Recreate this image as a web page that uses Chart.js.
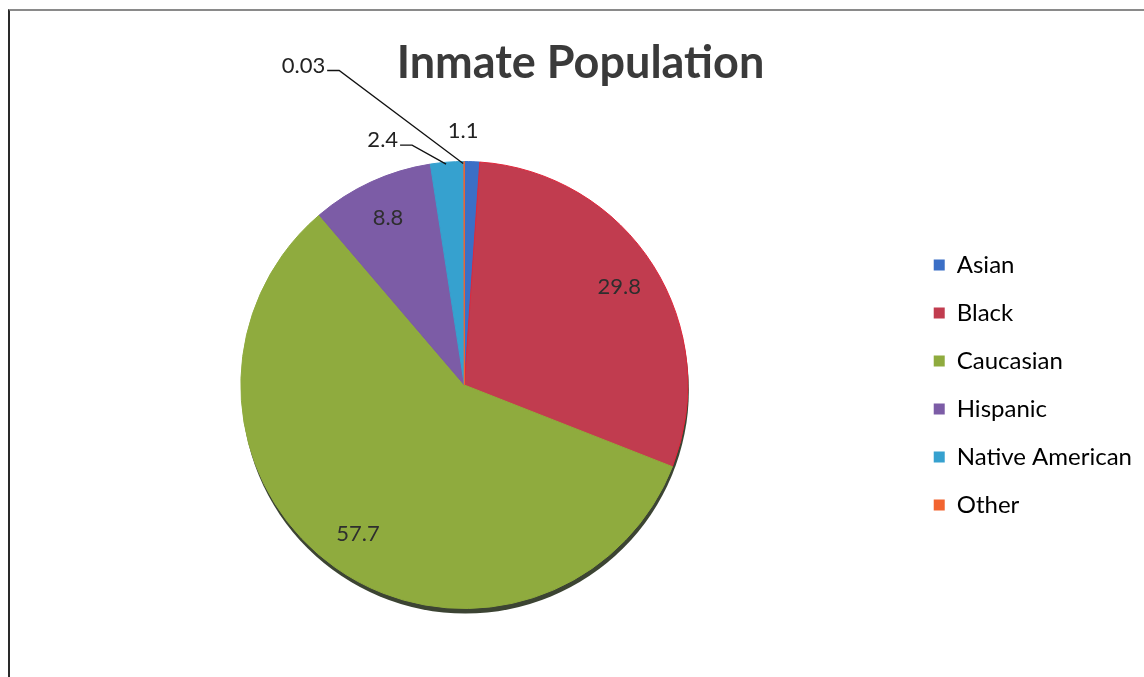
<!DOCTYPE html>
<html>
<head>
<meta charset="utf-8">
<script src="https://cdn.jsdelivr.net/npm/chart.js@4/dist/chart.umd.min.js"></script>
<style>
  html, body { margin: 0; padding: 0; background: #fff; }
  #wrap { position: relative; width: 1144px; height: 677px; overflow: hidden; }
  #frame { position: absolute; left: 8px; top: 9px; right: -5px; bottom: -5px;
           border-top: 2px solid #8a8a8a; border-left: 2px solid #2a2a2a; }
  canvas { position: absolute; left: 0; top: 0; }
</style>
</head>
<body>
<div id="wrap">
  <div id="frame"></div>
  <canvas id="pie" width="1144" height="677"></canvas>
</div>
<script>
// Chart data
const groups = ['Asian', 'Black', 'Caucasian', 'Hispanic', 'Native American', 'Other'];
const shares = [1.1, 29.8, 57.7, 8.8, 2.4, 0.03];
const sliceColors = ['#3b6fc6', '#c13c4f', '#8fab3e', '#7c5ca6', '#36a1cf', '#f26430'];
const edgeColors = ['#3b6fc6', '#e0283c', '#8fab3e', '#7c5ca6', '#36a1cf', '#f26430'];

// where each value label sits: inside the slice, or outside with an optional leader
const labelPlacement = [
  { outside: true, dx: -9, dy: -31 },
  { outside: false },
  { outside: false },
  { outside: false },
  { outside: true, dx: -49, dy: -22, leader: true },
  { outside: true, dx: -139, dy: -96, leader: true }
];

const labelFont = '22px Lato';

// dark rim under the pie, like the 3d-ish office look
const shadowPlugin = {
  id: 'pieShadow',
  beforeDatasetsDraw(chart) {
    const arc = chart.getDatasetMeta(0).data[0];
    if (!arc) return;
    const ctx = chart.ctx;
    ctx.save();
    ctx.fillStyle = '#3c4433';
    ctx.beginPath();
    ctx.arc(arc.x + 1, arc.y + 5, arc.outerRadius, 0, Math.PI * 2);
    ctx.fill();
    ctx.restore();
  }
};

const valueLabels = {
  id: 'valueLabels',
  afterDatasetsDraw(chart) {
    const ctx = chart.ctx;
    const meta = chart.getDatasetMeta(0);
    ctx.save();
    ctx.font = labelFont;
    ctx.textBaseline = 'middle';
    meta.data.forEach((arc, i) => {
      const mid = (arc.startAngle + arc.endAngle) / 2;
      const text = String(shares[i]);
      const p = labelPlacement[i];
      if (!p.outside) {
        const r = arc.outerRadius * 0.82;
        ctx.fillStyle = '#2e2e2e';
        ctx.textAlign = 'center';
        ctx.fillText(text, arc.x + Math.cos(mid) * r, arc.y + Math.sin(mid) * r);
        return;
      }
      const ex = arc.x + Math.cos(mid) * arc.outerRadius;
      const ey = arc.y + Math.sin(mid) * arc.outerRadius;
      ctx.fillStyle = '#222';
      if (!p.leader) {
        ctx.textAlign = 'center';
        ctx.fillText(text, ex + p.dx, ey + p.dy);
        return;
      }
      const tx = ex + p.dx, ty = ey + p.dy;
      ctx.strokeStyle = '#111';
      ctx.lineWidth = 1.3;
      ctx.beginPath();
      ctx.moveTo(ex - 1, ey + 2);
      ctx.lineTo(tx + 14, ty + 5);
      ctx.lineTo(tx + 2, ty + 5);
      ctx.stroke();
      ctx.textAlign = 'right';
      ctx.fillText(text, tx, ty);
    });
    ctx.restore();
  }
};

new Chart(document.getElementById('pie'), {
  type: 'pie',
  data: {
    labels: groups,
    datasets: [{
      data: shares,
      backgroundColor: sliceColors,
      borderColor: edgeColors,
      borderWidth: 1,
      hoverOffset: 0
    }]
  },
  options: {
    responsive: false,
    animation: false,
    layout: { padding: { left: 19, right: 2, top: 0, bottom: 68 } },
    plugins: {
      tooltip: { enabled: false },
      title: {
        display: true,
        text: 'Inmate Population',
        color: '#3a3a3a',
        font: { family: 'Lato', size: 45, weight: 'bold', lineHeight: 1.2 },
        padding: { top: 36, bottom: 71 }
      },
      legend: {
        position: 'right',
        fullSize: false,
        labels: {
          boxWidth: 11,
          boxHeight: 11,
          padding: 24,
          color: '#1e1e1e',
          font: { family: 'Lato', size: 24 },
          generateLabels(chart) {
            return groups.map((g, i) => ({
              text: g,
              fillStyle: sliceColors[i],
              strokeStyle: sliceColors[i],
              lineWidth: 0,
              index: i
            }));
          }
        }
      }
    }
  },
  plugins: [shadowPlugin, valueLabels]
});
</script>
</body>
</html>
